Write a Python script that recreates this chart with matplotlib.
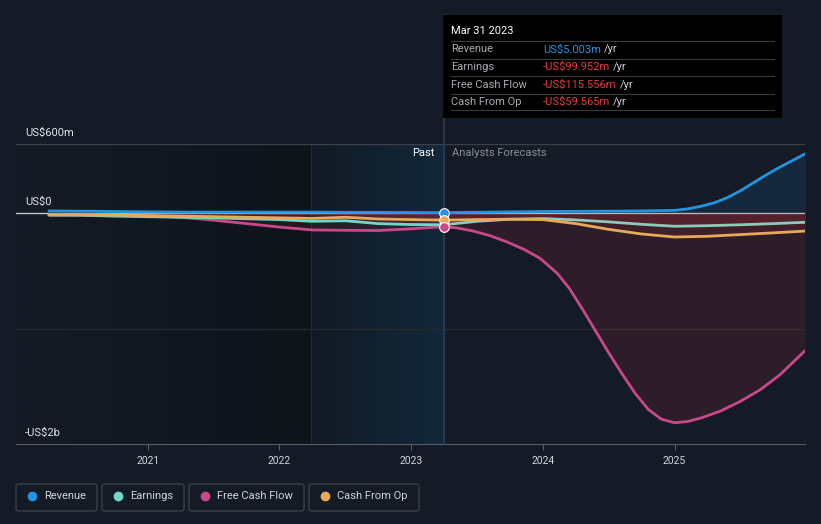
import numpy as np
import matplotlib.pyplot as plt
from matplotlib.patches import FancyBboxPatch, Rectangle
from matplotlib.colors import LinearSegmentedColormap

plt.rcParams['font.family'] = ['Roboto', 'DejaVu Sans']

# past (quarterly) and forecast values, US$ millions
past_t = [2020.25, 2020.5, 2020.75, 2021.0, 2021.25, 2021.5, 2021.75,
          2022.0, 2022.25, 2022.5, 2022.75, 2023.0, 2023.25]
rev_past = [20, 18, 15, 12, 10, 10, 10, 10, 10, 8, 8, 6, 5.003]
earn_past = [-15, -17, -25, -30, -35, -40, -48, -55, -70, -65, -90, -98, -99.952]
fcf_past = [-15, -15, -18, -22, -35, -60, -90, -120, -145, -148, -150, -135, -115.556]
cfo_past = [-15, -15, -17, -20, -25, -30, -35, -40, -45, -35, -50, -55, -59.565]

rev_fc_t = [2023.25, 2024.0, 2024.5, 2024.75, 2025.0, 2025.1, 2025.2, 2025.3, 2025.4,
            2025.5, 2025.6, 2025.7, 2025.8, 2025.9, 2026.0]
rev_fc = [5.003, 15, 18, 20, 25, 38, 60, 90, 135, 195, 265, 335, 400, 460, 520]
earn_fc_t = [2023.25, 2023.5, 2023.75, 2024.0, 2024.25, 2024.5, 2024.75, 2025.0,
             2025.25, 2025.5, 2025.75, 2026.0]
earn_fc = [-99.952, -70, -52, -46, -58, -75, -96, -113, -108, -100, -90, -78]
cfo_fc_t = [2023.25, 2023.5, 2023.75, 2024.0, 2024.25, 2024.5, 2024.75, 2025.0,
            2025.25, 2025.5, 2025.75, 2026.0]
cfo_fc = [-59.565, -55, -52, -55, -90, -140, -180, -206, -200, -185, -170, -154]
fcf_fc_t = [2023.25, 2023.35, 2023.47, 2023.6, 2023.73, 2023.86, 2023.98, 2024.11,
            2024.2, 2024.3, 2024.4, 2024.5, 2024.6, 2024.7, 2024.8,
            2024.9, 2025.0, 2025.1, 2025.2, 2025.35, 2025.5, 2025.65, 2025.8, 2025.99]
fcf_fc = [-115.556, -128, -154, -195, -250, -315, -392, -522,
          -650, -830, -1020, -1210, -1390, -1560, -1700,
          -1785, -1816, -1805, -1775, -1714, -1630, -1530, -1400, -1192]

years = [2021, 2022, 2023, 2024, 2025]
year_labels = ['2021', '2022', '2023', '2024', '2025']

bg = '#151b26'
c_rev, c_earn, c_fcf, c_cfo = '#2394df', '#6fd8c8', '#c9488a', '#e8a95a'

fig = plt.figure(figsize=(8.21, 5.24), dpi=100, facecolor=bg)
ax = fig.add_axes([16/821, 80/524, 789/821, 300/524])
ax.set_facecolor(bg)
x0, x1 = 2020.0, 2025.99
ax.set_xlim(x0, x1)
ax.set_ylim(-2000, 600)

# background gradients
grad = np.linspace(0, 1, 256).reshape(1, -1)
cm_left = LinearSegmentedColormap.from_list('l', [bg, '#0f131a'])
cm_past = LinearSegmentedColormap.from_list('p', ['#111a24', '#13283b'])
ax.imshow(grad, cmap=cm_left, extent=[x0, 2022.24, -2000, 600], aspect='auto', zorder=0)
ax.imshow(grad, cmap=cm_past, extent=[2022.24, 2023.25, -2000, 600], aspect='auto', zorder=0)
ax.axvline(2022.24, color='#1e2a38', lw=0.8, zorder=0.5)

# gridlines
ax.axhline(600, color='#3a3f48', lw=1, zorder=1)
ax.axhline(-1000, color='#262b33', lw=1, zorder=1)
ax.axhline(0, color='#c8c8c8', lw=1, zorder=1)

# series
def draw(t, v, color, fill):
    ax.fill_between(t, v, 0, color=fill[0], alpha=fill[1], lw=0, zorder=2)
    ax.plot(t, v, color=color, lw=2, zorder=3, solid_capstyle='round',
            solid_joinstyle='round')

red = ('#d6303f', 0.12)
draw(past_t, fcf_past, c_fcf, red)
draw(fcf_fc_t, fcf_fc, c_fcf, red)
draw(past_t, earn_past, c_earn, red)
draw(earn_fc_t, earn_fc, '#8ccbb9', red)
draw(past_t, cfo_past, c_cfo, red)
draw(cfo_fc_t, cfo_fc, c_cfo, red)
draw(past_t, rev_past, c_rev, ('#2394df', 0.12))
draw(rev_fc_t, rev_fc, c_rev, ('#2394df', 0.12))

# markers at the tooltip date
for v, c in [(rev_past[-1], c_rev), (cfo_past[-1], c_cfo), (fcf_past[-1], c_fcf)]:
    ax.plot([2023.25], [v], 'o', ms=7, mfc=c, mec='white', mew=0.8, zorder=5)

# tooltip line and box
ax.plot([2023.25, 2023.25], [-2000, 600 + 129 * 8.7], color='#2a3d50', lw=1.2,
        clip_on=False, zorder=4)
fig.patches.append(Rectangle((443/821, (524-118)/524), 339/821, 103/524,
                             transform=fig.transFigure, facecolor='#000000',
                             edgecolor='none', zorder=10))
fig.text(451/821, 1 - 31/524, 'Mar 31 2023', color='white', fontsize=8,
         va='center', zorder=11)
rows = [('Revenue', 'US$5.003m', c_rev),
        ('Earnings', '-US$99.952m', '#e83c3c'),
        ('Free Cash Flow', '-US$115.556m', '#e83c3c'),
        ('Cash From Op', '-US$59.565m', '#e83c3c')]
renderer = fig.canvas.get_renderer()
for i, (lab, val, col) in enumerate(rows):
    yl = 41 + i * 17.5
    fig.add_artist(plt.Line2D([451/821, 774/821], [1 - yl/524, 1 - yl/524],
                              color='#3a3a3a', lw=0.8, zorder=11))
    yc = 1 - (yl + 8.5) / 524
    fig.text(451/821, yc, lab, color='#a8acb2', fontsize=8, va='center', zorder=11)
    t = fig.text(543/821, yc, val, color=col, fontsize=8, va='center', zorder=11)
    bb = t.get_window_extent(renderer=renderer)
    fig.text(bb.x1 / 821 + 3/821, yc, '/yr', color='#d0d4da', fontsize=8,
             va='center', zorder=11)
fig.add_artist(plt.Line2D([451/821, 774/821], [1 - 110/524, 1 - 110/524],
                          color='#3a3a3a', lw=0.8, zorder=11))

# Past / Analysts Forecasts
ax.text(2023.18, 520, 'Past', color='white', fontsize=8, ha='right', va='center', zorder=6)
ax.text(2023.31, 520, 'Analysts Forecasts', color='#8a8f96', fontsize=8,
        ha='left', va='center', zorder=6)

# y labels
for v, lab in [(600, 'US$600m'), (0, 'US$0'), (-2000, '-US$2b')]:
    ax.text(2020.07, v + 100, lab, color='#e0e3e8', fontsize=8, va='center', zorder=6)

# x axis
for s in ['top', 'right', 'left']:
    ax.spines[s].set_visible(False)
ax.spines['bottom'].set_color('#5a5f66')
ax.set_yticks([])
ax.set_xticks(years)
ax.set_xticklabels(year_labels, color='#d0d4da', fontsize=7.5)
ax.tick_params(axis='x', colors='#5a5f66', length=4, labelcolor='#d0d4da', pad=5)

# legend
items = [('Revenue', c_rev, 16, 97), ('Earnings', c_earn, 102, 184),
         ('Free Cash Flow', c_fcf, 189, 304), ('Cash From Op', c_cfo, 309, 419)]
for lab, col, xa, xb in items:
    fig.patches.append(FancyBboxPatch((xa/821, (524-511)/524), (xb-xa)/821, 27/524,
                                      boxstyle='round,pad=0,rounding_size=0.004',
                                      transform=fig.transFigure, facecolor='none',
                                      edgecolor='#3e434b', lw=0.9))
    fig.add_artist(plt.Line2D([(xa + 16)/821], [1 - 496/524], marker='o', ms=6,
                              color=col, lw=0))
    fig.text((xa + 28)/821, 1 - 496/524, lab, color='#cfd3d8', fontsize=8, va='center')

fig.savefig('out.png', dpi=100, facecolor=bg)
